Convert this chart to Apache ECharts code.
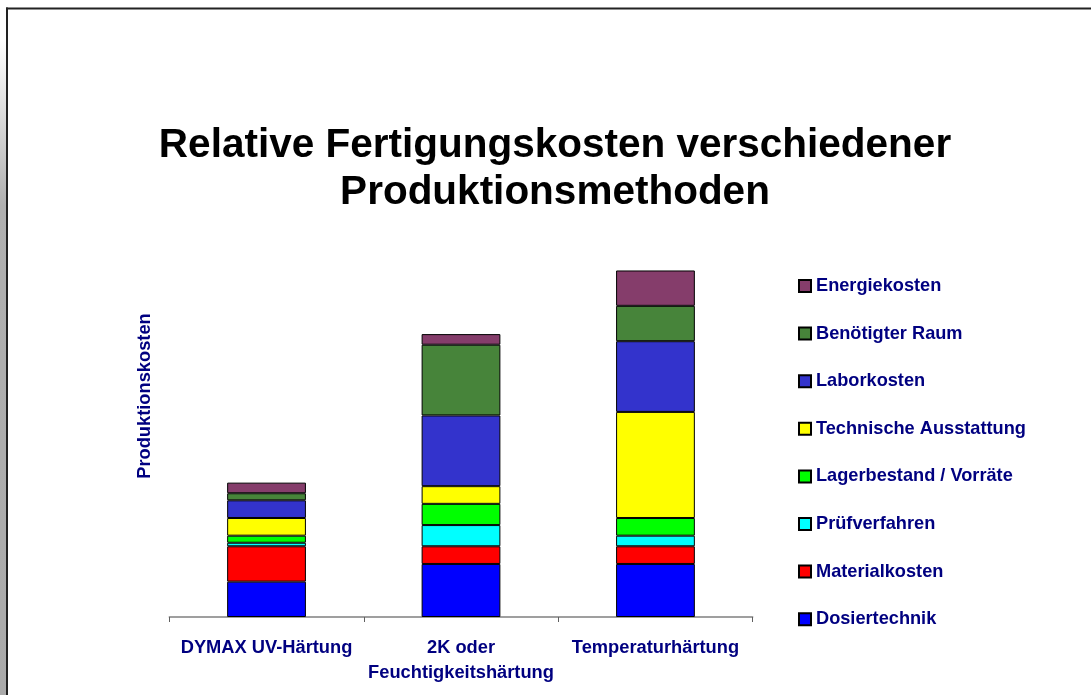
<!DOCTYPE html>
<html>
<head>
<meta charset="utf-8">
<script src="https://cdn.jsdelivr.net/npm/echarts@6/dist/echarts.min.js"></script>
<style>html,body{margin:0;padding:0;background:#fff;}#c{width:1091px;height:695px;}</style>
</head>
<body>
<div id="c"></div>
<script>
const categories = ['DYMAX UV-Härtung', '2K oder\nFeuchtigkeitshärtung', 'Temperaturhärtung'];
const seriesNames = ['Dosiertechnik', 'Materialkosten', 'Prüfverfahren', 'Lagerbestand / Vorräte', 'Technische Ausstattung', 'Laborkosten', 'Benötigter Raum', 'Energiekosten'];
const dosiertechnik = [2, 3, 3];
const materialkosten = [2, 1, 1];
const pruefverfahren = [0.2, 1.2, 0.6];
const lagerbestand = [0.4, 1.2, 1];
const technischeAusstattung = [1, 1, 6];
const laborkosten = [1, 4, 4];
const benoetigterRaum = [0.4, 4, 2];
const energiekosten = [0.6, 0.6, 2];
const seriesValues = [dosiertechnik, materialkosten, pruefverfahren, lagerbestand, technischeAusstattung, laborkosten, benoetigterRaum, energiekosten];
const colors = ['#0000FF', '#FF0000', '#00FFFF', '#00FF00', '#FFFF00', '#3333CC', '#47843A', '#853D6B'];

const chart = echarts.init(document.getElementById('c'));
const font = '"Liberation Sans", Arial, sans-serif';
chart.setOption({
  animation: false,
  backgroundColor: '#ffffff',
  title: {
    text: 'Relative Fertigungskosten verschiedener\nProduktionsmethoden',
    left: 555, top: 122, textAlign: 'center', padding: 0,
    textStyle: { fontFamily: font, fontWeight: 'bold', fontSize: 40.5, color: '#000', lineHeight: 47 }
  },
  legend: {
    orient: 'vertical', left: 798, top: 277, padding: 0,
    itemWidth: 12, itemHeight: 12, itemGap: 29.6, itemTextGap: 6,
    data: seriesNames.slice().reverse(),
    icon: 'rect',
    textStyle: { fontFamily: font, fontWeight: 'bold', fontSize: 18.2, color: '#000080' }
  },
  grid: { left: 169.3, right: 1091 - 752.7, top: 175, bottom: 78, containLabel: false },
  xAxis: {
    type: 'category', data: categories,
    axisLine: { lineStyle: { color: '#808080', width: 1.5 } },
    axisTick: { show: true, length: 5, lineStyle: { color: '#606060' } },
    axisLabel: { fontFamily: font, fontWeight: 'bold', fontSize: 18.3, color: '#000080', lineHeight: 25, margin: 18.5, interval: 0 }
  },
  yAxis: {
    type: 'value', min: 0, max: 25,
    name: 'Produktionskosten', nameLocation: 'middle', nameRotate: 90, nameGap: 15,
    nameTextStyle: { fontFamily: font, fontWeight: 'bold', fontSize: 18.3, color: '#000080' },
    axisLine: { show: false }, axisTick: { show: false }, axisLabel: { show: false }, splitLine: { show: false }
  },
  graphic: [
    { type: 'rect', shape: { x: 0, y: 40, width: 6, height: 660 }, style: { fill: new echarts.graphic.LinearGradient(0, 0, 0, 1, [{ offset: 0, color: '#ffffff' }, { offset: 0.25, color: '#b0b0b0' }, { offset: 1, color: '#aaaaaa' }]) }, silent: true },
    { type: 'line', shape: { x1: 6, y1: 8.5, x2: 1091, y2: 8.5 }, style: { stroke: '#222', lineWidth: 2 }, silent: true },
    { type: 'line', shape: { x1: 7, y1: 7.5, x2: 7, y2: 695 }, style: { stroke: '#222', lineWidth: 2 }, silent: true }
  ],
  series: seriesNames.map((n, i) => ({
    name: n, type: 'bar', stack: 'total', data: seriesValues[i], barWidth: '40.5%',
    itemStyle: { color: colors[i], borderColor: '#000', borderWidth: 1 }
  }))
});
</script>
</body>
</html>
